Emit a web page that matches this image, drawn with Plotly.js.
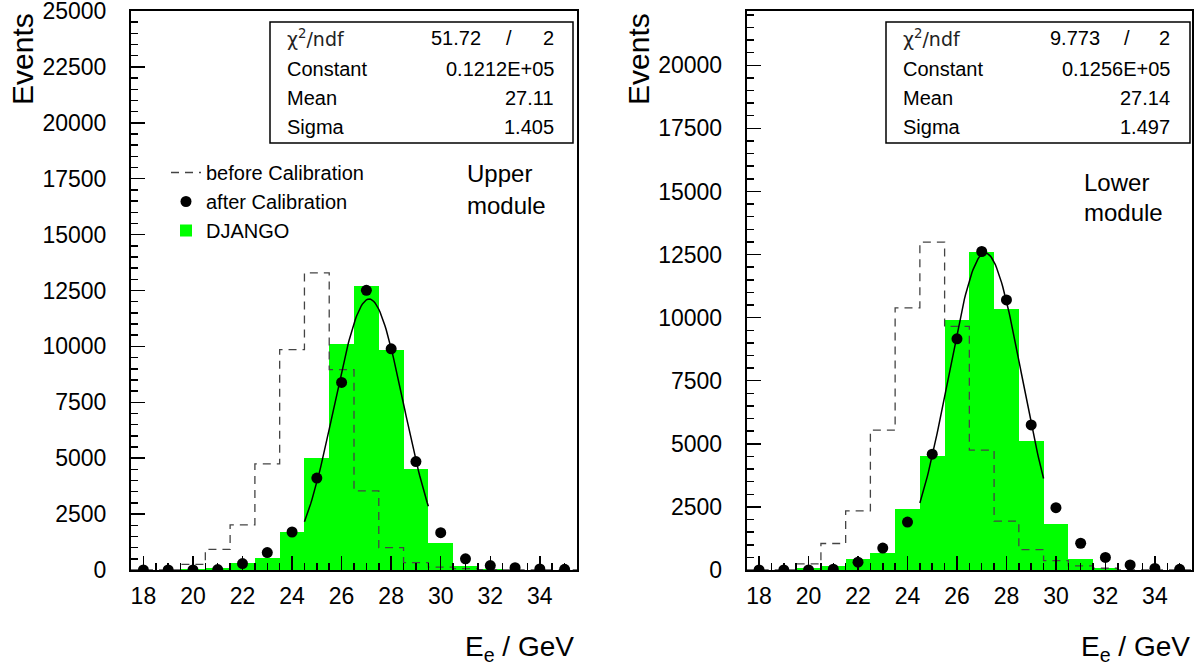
<!DOCTYPE html>
<html><head><meta charset="utf-8">
<script src="https://cdn.plot.ly/plotly-3.0.1.min.js"></script>
<style>html,body{margin:0;padding:0;background:#fff}#chart{width:1199px;height:668px}</style>
</head><body><div id="chart"></div>
<script>
// ---------- data ----------
const energyBins = [18,19,20,21,22,23,24,25,26,27,28,29,30,31,32,33,34,35];

// Upper module
const djangoUpper = [0,0,30,100,330,550,1720,5030,10130,12690,9860,4510,1210,190,30,0,0,0];
const beforeUpper = [0,0,250,920,2020,4750,9860,13290,8960,3540,1000,330,130,60,20,0,0,0];
const afterUpper  = [0,0,0,20,290,780,1700,4110,8390,12510,9890,4850,1670,500,200,105,45,30];

// Lower module
const djangoLower = [0,0,60,150,430,680,2420,4530,9910,12600,10350,5110,1840,420,90,20,0,0];
const beforeLower = [0,0,240,1050,2340,5540,10390,12990,9650,4750,1940,810,370,160,70,0,0,0];
const afterLower  = [0,0,0,30,310,870,1900,4590,9160,12620,10700,5750,2470,1060,500,200,60,25];

// Gaussian fit parameters (from stats boxes)
const fitUpper = {constant: 12120, mean: 27.11, sigma: 1.405};
const fitLower = {constant: 12560, mean: 27.14, sigma: 1.497};
const fitRange = [24.5, 29.5];

// Stats box text
const statNames = ['Constant','Mean','Sigma'];
const statUpper = ['0.1212E+05','27.11','1.405'];
const statLower = ['0.1256E+05','27.14','1.497'];
const chi2Upper = ['51.72','2'];
const chi2Lower = ['9.773','2'];

const legendNames = ['before Calibration','after Calibration','DJANGO'];
const panelLabelsUpper = ['Upper','module'];
const panelLabelsLower = ['Lower','module'];

// ---------- helpers ----------
const W = 1199, H = 668;
const px = x => x / W;
const py = y => 1 - y / H;
const FONT = 'Liberation Sans, Arial, Helvetica, sans-serif';

function stepEdges(bins){ const e = bins.map(b => b - 0.5); e.push(bins[bins.length-1] + 0.5); return e; }
function stepVals(v){ const a = v.slice(); a.push(v[v.length-1]); return a; }
function fitCurve(p){
  const xs = [], ys = [];
  for (let i = 0; i <= 100; i++) {
    const x = fitRange[0] + (fitRange[1]-fitRange[0]) * i / 100;
    xs.push(x);
    ys.push(p.constant * Math.exp(-0.5 * Math.pow((x - p.mean)/p.sigma, 2)));
  }
  return {x: xs, y: ys};
}

const green = '#00ff00';
function panelTraces(django, before, after, fit, xa, ya, showLeg){
  const f = fitCurve(fit);
  return [
    {type:'bar', x: energyBins, y: django, width: 1, xaxis: xa, yaxis: ya,
     marker:{color: green, line:{width:0}}, name: legendNames[2], showlegend: showLeg, legendrank: 3, hoverinfo:'skip'},
    {type:'scatter', mode:'lines', x: stepEdges(energyBins), y: stepVals(before), xaxis: xa, yaxis: ya,
     line:{shape:'hv', color:'#444', width:1.3, dash:'8px,6px'}, name: legendNames[0], showlegend: showLeg, legendrank: 1, hoverinfo:'skip'},
    {type:'scatter', mode:'lines', x: f.x, y: f.y, xaxis: xa, yaxis: ya,
     line:{color:'black', width:1.5}, showlegend:false, hoverinfo:'skip'},
    {type:'scatter', mode:'markers', x: energyBins, y: after, xaxis: xa, yaxis: ya,
     marker:{color:'black', size:11}, name: legendNames[1], showlegend: showLeg, legendrank: 2, hoverinfo:'skip'}
  ];
}

const traces = [
  ...panelTraces(djangoUpper, beforeUpper, afterUpper, fitUpper, 'x', 'y', true),
  ...panelTraces(djangoLower, beforeLower, afterLower, fitLower, 'x2', 'y2', false)
];

const axisCommon = {
  showline:true, linecolor:'black', linewidth:2, mirror:true,
  ticks:'inside', ticklen:14, tickwidth:1.5, tickcolor:'black',
  showgrid:false, zeroline:false, fixedrange:true,
  tickfont:{family:FONT, size:23, color:'black'},
  exponentformat:'none', separatethousands:false, tickformat:'d',
  ticklabeloverflow:'allow'
};
const xCommon = Object.assign({}, axisCommon, {range:[17.5,35.5], tick0:18, dtick:2, ticklabelstandoff:4,
  minor:{ticks:'inside', ticklen:7, tickwidth:1.5, tickcolor:'black', dtick:0.5, showgrid:false}});
const yCommon = Object.assign({}, axisCommon, {tick0:0, dtick:2500, ticklabelstandoff:18,
  minor:{ticks:'inside', ticklen:7, tickwidth:1.5, tickcolor:'black', dtick:500, showgrid:false}});

// stats box annotations/shapes
function statsBox(x0, x1, valRight, chi2, stats, slashX, chiValRight){
  const ann = [];
  const rowsY = [38, 69, 98, 127];
  ann.push({text:'χ<sup>2</sup>/ndf', x:px(x0+15), y:py(rowsY[0]), xanchor:'left', yanchor:'middle', font:{family:'DejaVu Sans, sans-serif', size:19, color:'#222'}});
  ann.push({text:chi2[0], x:px(chiValRight), y:py(rowsY[0]), xanchor:'right', yanchor:'middle', font:{family:FONT, size:20, color:'black'}});
  ann.push({text:'/', x:px(slashX), y:py(rowsY[0]), xanchor:'center', yanchor:'middle', font:{family:FONT, size:20, color:'black'}});
  ann.push({text:chi2[1], x:px(valRight), y:py(rowsY[0]), xanchor:'right', yanchor:'middle', font:{family:FONT, size:20, color:'black'}});
  for (let i = 0; i < 3; i++) {
    ann.push({text:statNames[i], x:px(x0+15), y:py(rowsY[i+1]), xanchor:'left', yanchor:'middle', font:{family:FONT, size:20, color:'black'}});
    ann.push({text:stats[i], x:px(valRight), y:py(rowsY[i+1]), xanchor:'right', yanchor:'middle', font:{family:FONT, size:20, color:'black'}});
  }
  const shape = {type:'rect', xref:'paper', yref:'paper', x0:px(x0), x1:px(x1), y0:py(143), y1:py(22), line:{color:'black', width:1.5}, fillcolor:'white', layer:'above'};
  return {ann, shape};
}
const sbU = statsBox(270, 573, 556, chi2Upper, statUpper, 509, 483);
const sbL = statsBox(886, 1190, 1172, chi2Lower, statLower, 1127, 1102);

const labelFont = {family:FONT, size:24, color:'black'};
const annotations = [
  ...sbU.ann, ...sbL.ann,
  {text:'Events', x:px(22), y:py(11), xanchor:'center', yanchor:'top', textangle:-90, font:{family:FONT, size:30, color:'black'}},
  {text:'Events', x:px(638), y:py(11), xanchor:'center', yanchor:'top', textangle:-90, font:{family:FONT, size:30, color:'black'}},
  {text:'E<sub>e</sub> / GeV', x:px(576), y:py(668), xanchor:'right', yanchor:'bottom', font:{family:FONT, size:28, color:'black'}},
  {text:'E<sub>e</sub> / GeV', x:px(1192), y:py(668), xanchor:'right', yanchor:'bottom', font:{family:FONT, size:28, color:'black'}},
  {text:panelLabelsUpper[0], x:px(465), y:py(173), xanchor:'left', yanchor:'middle', font:labelFont},
  {text:panelLabelsUpper[1], x:px(465), y:py(205), xanchor:'left', yanchor:'middle', font:labelFont},
  {text:panelLabelsLower[0], x:px(1082), y:py(183), xanchor:'left', yanchor:'middle', font:labelFont},
  {text:panelLabelsLower[1], x:px(1082), y:py(213), xanchor:'left', yanchor:'middle', font:labelFont}
];
annotations.forEach(a => { a.xref = a.xref || 'paper'; a.yref = a.yref || 'paper'; a.showarrow = false; });

const layout = {
  width: W, height: H,
  margin:{l:0, r:0, t:0, b:0},
  paper_bgcolor:'white', plot_bgcolor:'white',
  font:{family:FONT, color:'black'},
  separators:'.',
  barmode:'overlay', bargap:0,
  xaxis: Object.assign({}, xCommon, {domain:[px(131), px(577)], anchor:'y'}),
  yaxis: Object.assign({}, yCommon, {domain:[py(570), py(11)], anchor:'x', range:[0,25000.5]}),
  xaxis2: Object.assign({}, xCommon, {domain:[px(746.7), px(1192)], anchor:'y2'}),
  yaxis2: Object.assign({}, yCommon, {domain:[py(570), py(11)], anchor:'x2', range:[0,22150]}),
  showlegend:true,
  legend:{x:px(166), y:py(153), xanchor:'left', yanchor:'top', bgcolor:'rgba(0,0,0,0)', font:{family:FONT, size:20, color:'black'}, tracegroupgap:0},
  shapes:[sbU.shape, sbL.shape],
  annotations: annotations
};

Plotly.newPlot('chart', traces, layout, {displayModeBar:false, staticPlot:true});
</script></body></html>
